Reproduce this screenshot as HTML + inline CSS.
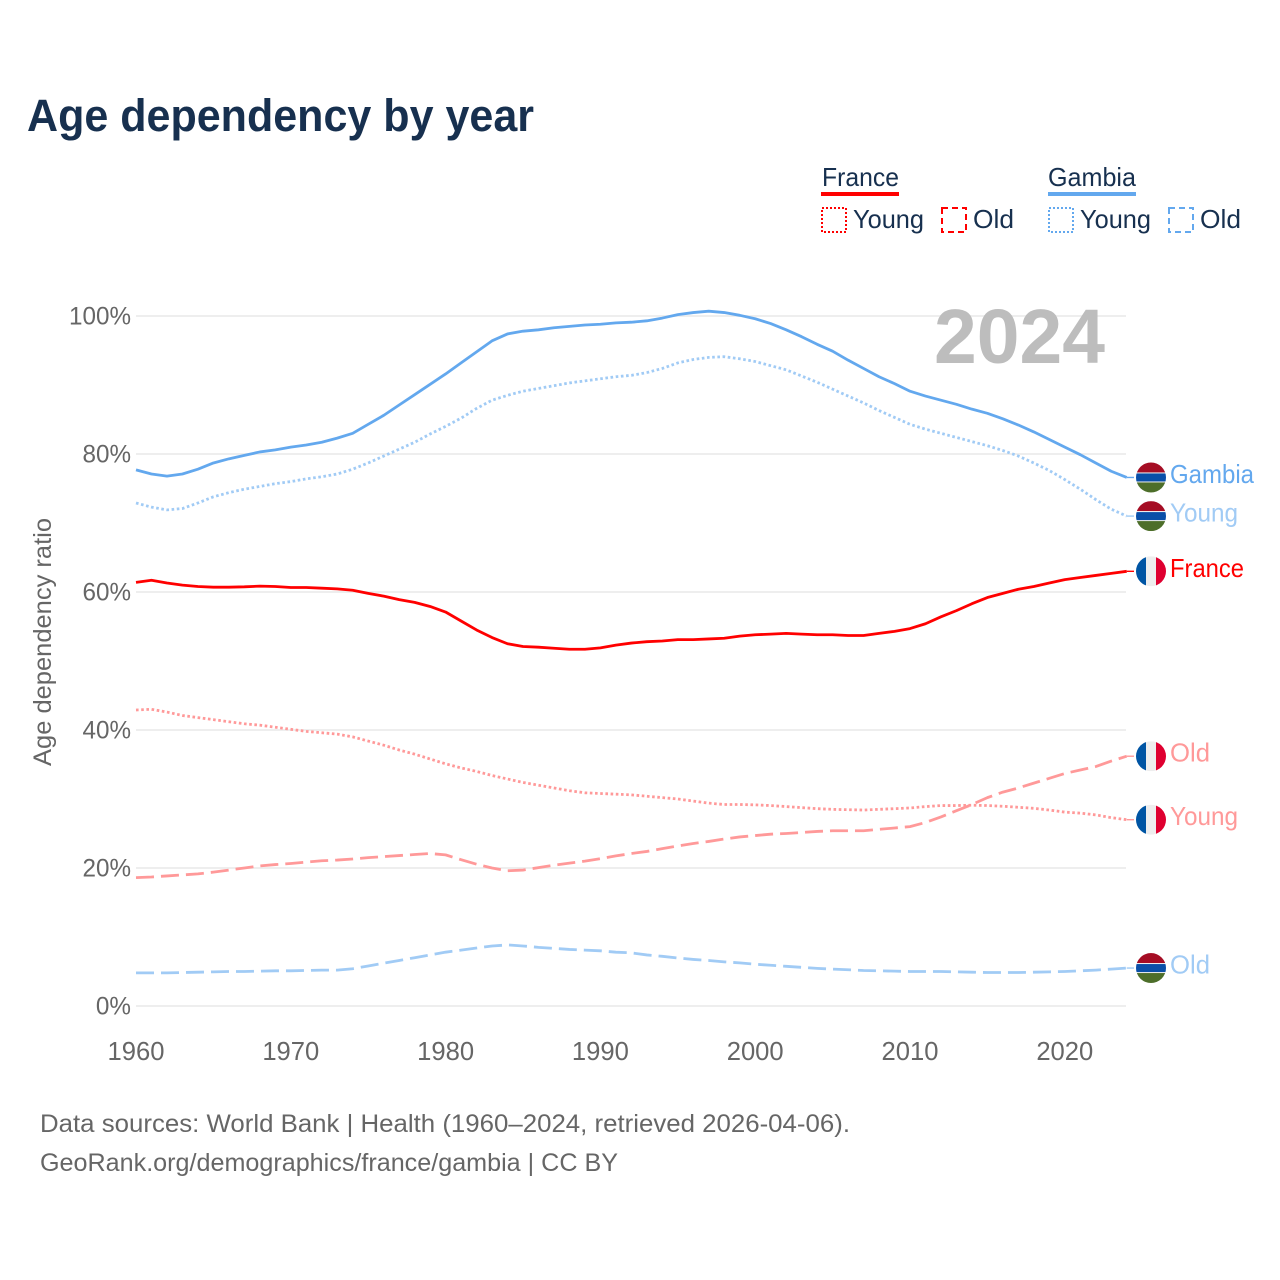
<!DOCTYPE html>
<html lang="en">
<head>
<meta charset="utf-8">
<title>Age dependency by year</title>
<style>
html,body{margin:0;padding:0;background:#fff}
svg{display:block}
text{font-family:"Liberation Sans",sans-serif}
</style>
</head>
<body>
<svg id="chart" xmlns="http://www.w3.org/2000/svg" width="1280" height="1280" viewBox="0 0 1280 1280">
  <defs>
    <clipPath id="flag-clip"><circle cx="0" cy="0" r="15"></circle></clipPath>
  </defs>
  <rect x="0" y="0" width="1280" height="1280" fill="#ffffff"></rect>
  <text x="27" y="131" font-size="45" font-weight="700" fill="#17304f" textLength="507" lengthAdjust="spacingAndGlyphs">Age dependency by year</text>

  <g font-size="26" fill="#17304f">
    <text x="822" y="186" textLength="77" lengthAdjust="spacingAndGlyphs">France</text>
    <rect x="821" y="192" width="78" height="4" fill="#ff0000"></rect>
    <rect x="822" y="208" width="24" height="24" fill="none" stroke="#ff0000" stroke-width="2" stroke-dasharray="2 2"></rect>
    <text x="853" y="228" textLength="71" lengthAdjust="spacingAndGlyphs">Young</text>
    <rect x="942" y="208" width="24" height="24" fill="none" stroke="#ff0000" stroke-width="2" stroke-dasharray="6 4"></rect>
    <text x="973" y="228" textLength="41" lengthAdjust="spacingAndGlyphs">Old</text>
    <text x="1048" y="186" textLength="88" lengthAdjust="spacingAndGlyphs">Gambia</text>
    <rect x="1048" y="192" width="88" height="4" fill="#63a8ee"></rect>
    <rect x="1049" y="208" width="24" height="24" fill="none" stroke="#63a8ee" stroke-width="2" stroke-dasharray="2 2"></rect>
    <text x="1080" y="228" textLength="71" lengthAdjust="spacingAndGlyphs">Young</text>
    <rect x="1169" y="208" width="24" height="24" fill="none" stroke="#63a8ee" stroke-width="2" stroke-dasharray="6 4"></rect>
    <text x="1200" y="228" textLength="41" lengthAdjust="spacingAndGlyphs">Old</text>
  </g>

  <g id="grid"></g>
  <g id="y-ticks"></g>
  <g id="x-ticks"></g>

  <text transform="translate(51,642) rotate(-90)" text-anchor="middle" font-size="25" fill="#666666" textLength="248" lengthAdjust="spacingAndGlyphs">Age dependency ratio</text>

  <text id="year-label" x="934" y="363" font-size="77" font-weight="700" fill="#bdbdbd" textLength="171" lengthAdjust="spacingAndGlyphs">2024</text>

  <g id="series"></g>

  <text x="40" y="1132" font-size="25" fill="#666666" textLength="810" lengthAdjust="spacingAndGlyphs">Data sources: World Bank | Health (1960–2024, retrieved 2026-04-06).</text>
  <text x="40" y="1171" font-size="25" fill="#666666" textLength="578" lengthAdjust="spacingAndGlyphs">GeoRank.org/demographics/france/gambia | CC BY</text>
</svg>

<script>
var startYear = 1960;
var yTickValues = [0, 20, 40, 60, 80, 100];
var xTickValues = [1960, 1970, 1980, 1990, 2000, 2010, 2020];

var gambiaTotal = [77.7,77.1,76.8,77.1,77.8,78.7,79.3,79.8,80.3,80.6,81.0,81.3,81.7,82.3,83.0,84.3,85.6,87.1,88.6,90.1,91.6,93.2,94.8,96.4,97.4,97.8,98.0,98.3,98.5,98.7,98.8,99.0,99.1,99.3,99.7,100.2,100.5,100.7,100.5,100.1,99.6,98.9,98.0,97.0,95.9,94.9,93.6,92.4,91.2,90.2,89.1,88.4,87.8,87.2,86.5,85.9,85.1,84.2,83.2,82.1,81.0,79.9,78.7,77.5,76.6];
var gambiaYoung = [72.9,72.3,71.9,72.1,72.9,73.8,74.4,74.9,75.3,75.7,76.0,76.4,76.7,77.1,77.8,78.7,79.7,80.7,81.7,82.9,84.0,85.2,86.6,87.8,88.5,89.1,89.5,89.9,90.3,90.6,90.9,91.2,91.4,91.8,92.4,93.2,93.7,94.0,94.1,93.8,93.4,92.8,92.2,91.3,90.4,89.4,88.4,87.4,86.3,85.3,84.3,83.6,83.0,82.4,81.8,81.2,80.5,79.7,78.7,77.6,76.3,74.9,73.4,72.0,71.0];
var gambiaOld = [4.8,4.8,4.8,4.85,4.9,4.95,5,5,5.05,5.1,5.1,5.15,5.2,5.2,5.4,5.8,6.2,6.6,7.0,7.4,7.8,8.1,8.4,8.7,8.85,8.7,8.5,8.35,8.2,8.1,8.0,7.8,7.7,7.4,7.2,6.95,6.75,6.6,6.4,6.25,6.05,5.9,5.75,5.6,5.45,5.35,5.25,5.15,5.1,5.05,5.0,5.0,5.0,4.95,4.9,4.85,4.85,4.85,4.9,4.95,5.0,5.1,5.2,5.35,5.5];
var franceTotal = [61.4,61.7,61.3,61.0,60.8,60.7,60.7,60.75,60.85,60.8,60.65,60.65,60.55,60.45,60.25,59.8,59.4,58.9,58.5,57.9,57.1,55.8,54.5,53.4,52.5,52.1,52.0,51.85,51.7,51.7,51.9,52.3,52.6,52.8,52.9,53.1,53.1,53.2,53.3,53.6,53.8,53.9,54.0,53.9,53.8,53.8,53.7,53.7,54.0,54.3,54.7,55.4,56.4,57.3,58.3,59.2,59.8,60.4,60.8,61.3,61.8,62.1,62.4,62.7,63.0];
var franceYoung = [42.9,43.0,42.6,42.1,41.8,41.5,41.2,40.9,40.7,40.4,40.1,39.8,39.6,39.4,39.0,38.4,37.8,37.1,36.5,35.8,35.1,34.5,34.0,33.4,32.9,32.4,32.0,31.6,31.2,30.9,30.8,30.7,30.6,30.4,30.2,30.0,29.7,29.4,29.2,29.2,29.15,29.05,28.9,28.75,28.6,28.5,28.45,28.4,28.5,28.6,28.7,28.9,29.05,29.05,29.1,29.05,28.95,28.8,28.65,28.4,28.1,27.95,27.7,27.3,27.0];
var franceOld = [18.6,18.7,18.85,19,19.15,19.4,19.7,20,20.3,20.5,20.65,20.85,21.05,21.15,21.3,21.5,21.65,21.8,21.95,22.1,21.9,21.2,20.55,20,19.6,19.7,20.05,20.4,20.7,21,21.35,21.75,22.1,22.4,22.8,23.2,23.55,23.85,24.2,24.5,24.7,24.9,25.0,25.15,25.3,25.4,25.4,25.4,25.6,25.8,26.0,26.6,27.4,28.3,29.2,30.2,31.0,31.6,32.3,33.0,33.7,34.2,34.7,35.5,36.2];

var NS = 'http://www.w3.org/2000/svg';
function xScale(year) { return 136 + (year - 1960) * 15.48; }
function yScale(value) { return 1006 - value * 6.9; }
function make(tag, attrs, parent) {
  var el = document.createElementNS(NS, tag);
  for (var k in attrs) el.setAttribute(k, attrs[k]);
  parent.appendChild(el);
  return el;
}

var gridGroup = document.getElementById('grid');
var yTickGroup = document.getElementById('y-ticks');
var xTickGroup = document.getElementById('x-ticks');
var seriesGroup = document.getElementById('series');

yTickValues.forEach(function (v) {
  var line = make('line', {x1: 136, x2: 1126, y1: yScale(v), y2: yScale(v), stroke: '#eeeeee', 'stroke-width': 2}, gridGroup);
  
  
  var label = make('text', {x: 131, y: yScale(v) + 8.5, 'text-anchor': 'end', 'font-size': 25, fill: '#666666'}, yTickGroup);
  
  
  label.textContent = v + '%';
  label.setAttribute('textLength', (label.getComputedTextLength() * 0.97).toFixed(1));
  label.setAttribute('lengthAdjust', 'spacingAndGlyphs');
});

xTickValues.forEach(function (year) {
  var label = make('text', {x: xScale(year), y: 1060, 'text-anchor': 'middle', 'font-size': 25.6, fill: '#666666'}, xTickGroup);
  
  
  label.textContent = year;
});

function drawFranceFlag(g) {
  var clip = make('g', {'clip-path': 'url(#flag-clip)'}, g);
  make('rect', {x: -15, y: -15, width: 10, height: 30, fill: '#0055a4'}, clip);
  make('rect', {x: -5, y: -15, width: 10, height: 30, fill: '#eeeeee'}, clip);
  make('rect', {x: 5, y: -15, width: 10, height: 30, fill: '#df0030'}, clip);
}
function drawGambiaFlag(g) {
  var clip = make('g', {'clip-path': 'url(#flag-clip)'}, g);
  make('rect', {x: -15, y: -15, width: 30, height: 10, fill: '#a50d24'}, clip);
  make('rect', {x: -15, y: -5, width: 30, height: 10, fill: '#eeeeee'}, clip);
  make('rect', {x: -15, y: -4, width: 30, height: 8, fill: '#0a4fa8'}, clip);
  make('rect', {x: -15, y: 5, width: 30, height: 10, fill: '#4d6e2a'}, clip);
}

function drawSeries(values, name, labelText, color, dash, labelWidth, drawFlag) {
  var g = make('g', {}, seriesGroup);
  
  
  var d = values.map(function (v, i) {
    return (i ? 'L' : 'M') + xScale(startYear + i).toFixed(2) + ' ' + yScale(v).toFixed(2);
  }).join(' ');
  var endY = yScale(values[values.length - 1]);
  var attrs = {d: d, fill: 'none', stroke: color, 'stroke-width': 2.8, 'stroke-linejoin': 'round'};
  if (dash) attrs['stroke-dasharray'] = dash;
  var path = make('path', attrs, g);
  
  
  var connector = make('line', {x1: xScale(startYear + values.length - 1), x2: 1134, y1: endY, y2: endY, stroke: color, 'stroke-width': 1.4}, g);
  
  
  var flag = make('g', {transform: 'translate(1151 ' + endY.toFixed(2) + ')'}, g);
  
  
  drawFlag(flag);
  var label = make('text', {x: 1170, y: endY + 5.5, 'font-size': 26, fill: color, textLength: labelWidth, lengthAdjust: 'spacingAndGlyphs'}, g);
  
  
  label.textContent = labelText;
}

drawSeries(gambiaOld, 'gambia-old-series', 'Old', '#a1cbf5', '18 7', 40, drawGambiaFlag);
drawSeries(gambiaYoung, 'gambia-young-series', 'Young', '#a1cbf5', '2.6 2.6', 68, drawGambiaFlag);
drawSeries(gambiaTotal, 'gambia-total-series', 'Gambia', '#63a8ee', null, 84, drawGambiaFlag);
drawSeries(franceOld, 'france-old-series', 'Old', '#ff9999', '18 7', 40, drawFranceFlag);
drawSeries(franceYoung, 'france-young-series', 'Young', '#ff9999', '2.6 2.6', 68, drawFranceFlag);
drawSeries(franceTotal, 'france-total-series', 'France', '#ff0000', null, 74, drawFranceFlag);
</script>
</body>
</html>
